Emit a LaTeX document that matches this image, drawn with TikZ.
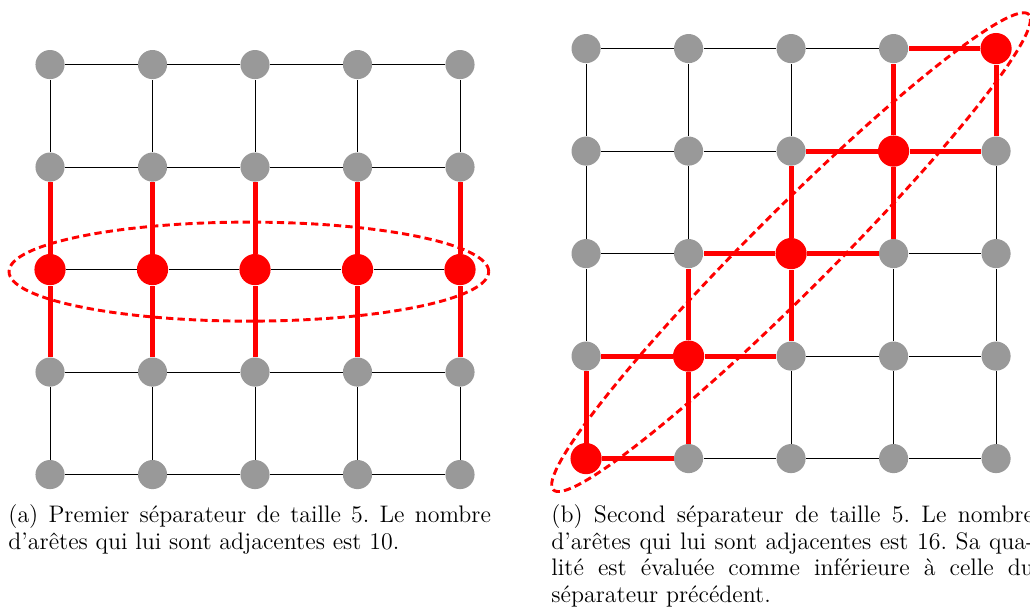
\documentclass[tikz,border=0pt]{standalone}
\usepackage{amsmath,amssymb}
\usepackage{tikz}
\usetikzlibrary{positioning,calc}

\begin{document}
\begin{tikzpicture}[
    x=1.732cm, y=1.732cm,
    vertex/.style={circle, fill=black!40, inner sep=0pt, minimum size=14pt},
    sepvertex/.style={circle, fill=red, inner sep=0pt, minimum size=15pt},
    edge/.style={black, line width=0.45pt},
    sepedge/.style={red, line width=2.4pt},
    sepline/.style={red, line width=1.4pt, dash pattern=on 3.5pt off 2pt},
    legend/.style={text width=232pt, align=justify, inner sep=0pt, font=\fontsize{11.5pt}{12.8pt}\selectfont\frenchspacing}
]
\useasboundingbox (-0.488,-1.37) rectangle (9.561,4.63);

% grille (a)
\foreach \i in {0,...,4}
  \foreach \j in {0,...,4}
    \node[vertex] (a-\i-\j) at (\i,\j) {};
\foreach \i in {0,...,4}
  \node[sepvertex] (a-\i-2) at (\i,2) {};

% grille (b)
\foreach \i in {0,...,4}
  \foreach \j in {0,...,4}
    \node[vertex] (b-\i-\j) at (5.23+\i,0.156+\j) {};
\foreach \i in {0,...,4}
  \node[sepvertex] (b-\i-\i) at (5.23+\i,0.156+\i) {};

% aretes
\foreach \g in {a,b}
  \foreach \i in {0,...,4}
    \foreach \j [count=\k] in {0,...,3} {
      \draw[edge] (\g-\i-\j) -- (\g-\i-\k);
      \draw[edge] (\g-\j-\i) -- (\g-\k-\i);
    }

% aretes adjacentes au separateur (a)
\foreach \i in {0,...,4} {
  \draw[sepedge] (a-\i-1) -- (a-\i-2);
  \draw[sepedge] (a-\i-2) -- (a-\i-3);
}

% aretes adjacentes au separateur (b)
\draw[sepedge] (b-0-0) -- (b-0-1);
\draw[sepedge] (b-0-0) -- (b-1-0);
\foreach \i/\p/\n in {1/0/2, 2/1/3, 3/2/4} {
  \draw[sepedge] (b-\i-\i) -- (b-\p-\i);
  \draw[sepedge] (b-\i-\i) -- (b-\n-\i);
  \draw[sepedge] (b-\i-\i) -- (b-\i-\p);
  \draw[sepedge] (b-\i-\i) -- (b-\i-\n);
}
\draw[sepedge] (b-4-4) -- (b-3-4);
\draw[sepedge] (b-4-4) -- (b-4-3);

% separateurs
\draw[sepline] (1.94,1.98) ellipse [x radius=2.34, y radius=0.483];
\draw[sepline, rotate around={45:(7.23,2.17)}] (7.23,2.17) ellipse [x radius=3.28, y radius=0.39];

% legendes
\node[legend, anchor=north west] (cap-a) at (-0.41,-0.29)
  {(a) Premier séparateur de taille 5. Le nombre d’arêtes qui lui sont adjacentes est 10.};
\node[legend, anchor=north west] (cap-b) at (4.888,-0.29)
  {(b) Second séparateur de taille 5. Le nombre d’arêtes qui lui sont adjacentes est 16. Sa qua\-lité est évaluée comme inférieure à celle du \mbox{séparateur} précédent.};
\end{tikzpicture}
\end{document}
